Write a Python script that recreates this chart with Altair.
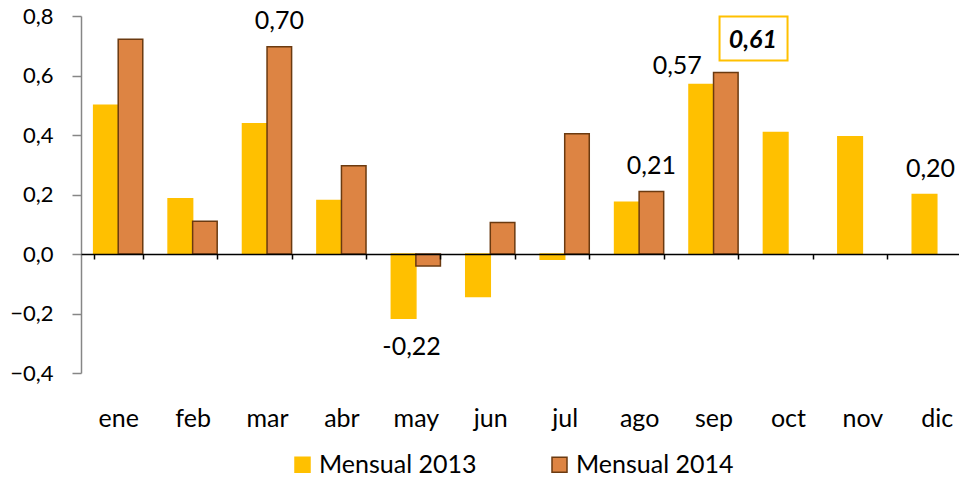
import altair as alt
import pandas as pd

months = ["ene", "feb", "mar", "abr", "may", "jun", "jul", "ago", "sep", "oct", "nov", "dic"]
series_names = ["Mensual 2013", "Mensual 2014"]
v2013 = [0.50, 0.186, 0.438, 0.18, -0.216, -0.143, -0.018, 0.174, 0.57, 0.408, 0.394, 0.20]
v2014 = [0.722, 0.11, 0.697, 0.297, -0.04, 0.106, 0.404, 0.21, 0.61]

label_months = ["mar", "may", "ago", "sep", "sep", "dic"]
label_series = ["Mensual 2014", "Mensual 2013", "Mensual 2014", "Mensual 2013", "Mensual 2014", "Mensual 2013"]
label_texts = ["0,70", "-0,22", "0,21", "0,57", "0,61", "0,20"]

rows = []
for m, v in zip(months, v2013):
    rows.append({"mes": m, "serie": series_names[0], "valor": v})
for m, v in zip(months, v2014):
    rows.append({"mes": m, "serie": series_names[1], "valor": v})
df = pd.DataFrame(rows)

val_lookup = {(r["mes"], r["serie"]): r["valor"] for r in rows}
lab_df = pd.DataFrame({
    "mes": label_months,
    "serie": label_series,
    "texto": label_texts,
    "valor": [val_lookup[(m, s)] for m, s in zip(label_months, label_series)],
})

FONT = "Lato"
FS = 25
YELLOW = "#FFC000"
ORANGE = "#DD8443"
BROWN = "#6B3A10"
GRAY = "#868686"

x_enc = alt.X(
    "mes:N", sort=months,
    scale=alt.Scale(domain=months, paddingInner=0.34, paddingOuter=0.17, range=[0, 893]),
    axis=alt.Axis(title=None, labelAngle=0, offset=-119, tickBand="extent",
                  tickSize=5, tickColor="black", tickWidth=1.5,
                  domainColor="black", domainWidth=1.5,
                  labelPadding=167, labelBaseline="alphabetic",
                  labelFontSize=FS, labelFont=FONT, labelColor="black", zindex=1),
)
y_enc = alt.Y(
    "valor:Q",
    scale=alt.Scale(domain=[-0.4, 0.8], nice=False, zero=False),
    axis=alt.Axis(title=None, grid=False, values=[-0.4, -0.2, 0.0, 0.2, 0.4, 0.6, 0.8],
                  labelExpr="replace(format(datum.value, '.1f'), '.', ',')",
                  domainColor=GRAY, domainWidth=1.5, tickColor=GRAY, tickWidth=1.5,
                  tickSize=9, labelPadding=19, labelFontSize=22, labelFont=FONT,
                  labelColor="black"),
)
xoff = alt.XOffset("serie:N", sort=series_names, scale=alt.Scale(domain=series_names))

leg = alt.Legend(title=None, orient="none", legendX=209, legendY=436, direction="horizontal",
                 symbolType="square", symbolSize=225, symbolStrokeWidth=1.5,
                 labelFontSize=FS, labelFont=FONT, labelColor="black",
                 labelOffset=4, columnPadding=70)

bars = alt.Chart(df).mark_bar(strokeWidth=1.5).encode(
    x=x_enc, y=y_enc, xOffset=xoff,
    fill=alt.Fill("serie:N", scale=alt.Scale(domain=series_names, range=[YELLOW, ORANGE]), legend=leg),
    stroke=alt.Stroke("serie:N", scale=alt.Scale(domain=series_names, range=[YELLOW, BROWN]), legend=leg),
)

# label styling offsets (pixels) per label
offsets = {
    ("mar", "Mensual 2014"): (0, -18, "normal", "normal"),
    ("may", "Mensual 2013"): (8, 37, "normal", "normal"),
    ("ago", "Mensual 2014"): (0, -18, "normal", "normal"),
    ("sep", "Mensual 2013"): (-24, -10, "normal", "normal"),
    ("sep", "Mensual 2014"): (27, -25, "bold", "italic"),
    ("dic", "Mensual 2013"): (6, -18, "normal", "normal"),
}

layers = [bars]

box = alt.Chart(lab_df).transform_filter(
    (alt.datum.mes == "sep") & (alt.datum.serie == "Mensual 2014")
).mark_point(
    shape="M-1,-0.647L1,-0.647L1,0.647L-1,0.647Z", size=68 * 68, filled=True,
    fill="white", stroke=YELLOW, strokeWidth=2, opacity=1, xOffset=40, yOffset=-34,
).encode(x=x_enc, y=y_enc)
layers.append(box)

for (m, s), (dx, dy, fw, fst) in offsets.items():
    t = alt.Chart(lab_df).transform_filter(
        (alt.datum.mes == m) & (alt.datum.serie == s)
    ).mark_text(font=FONT, fontSize=FS, color="black", baseline="alphabetic", align="center",
                dx=dx, dy=dy, fontWeight=fw, fontStyle=fst).encode(
        x=x_enc, y=y_enc, xOffset=xoff, text="texto:N")
    layers.append(t)

chart = alt.layer(*layers).properties(
    width=878, height=357,
    padding={"left": 73, "top": 8, "right": 0, "bottom": 104},
    autosize=alt.AutoSizeParams(type="none"),
).configure_view(stroke=None)

chart.save("out.html", embed_options={"renderer": "svg", "actions": False})
